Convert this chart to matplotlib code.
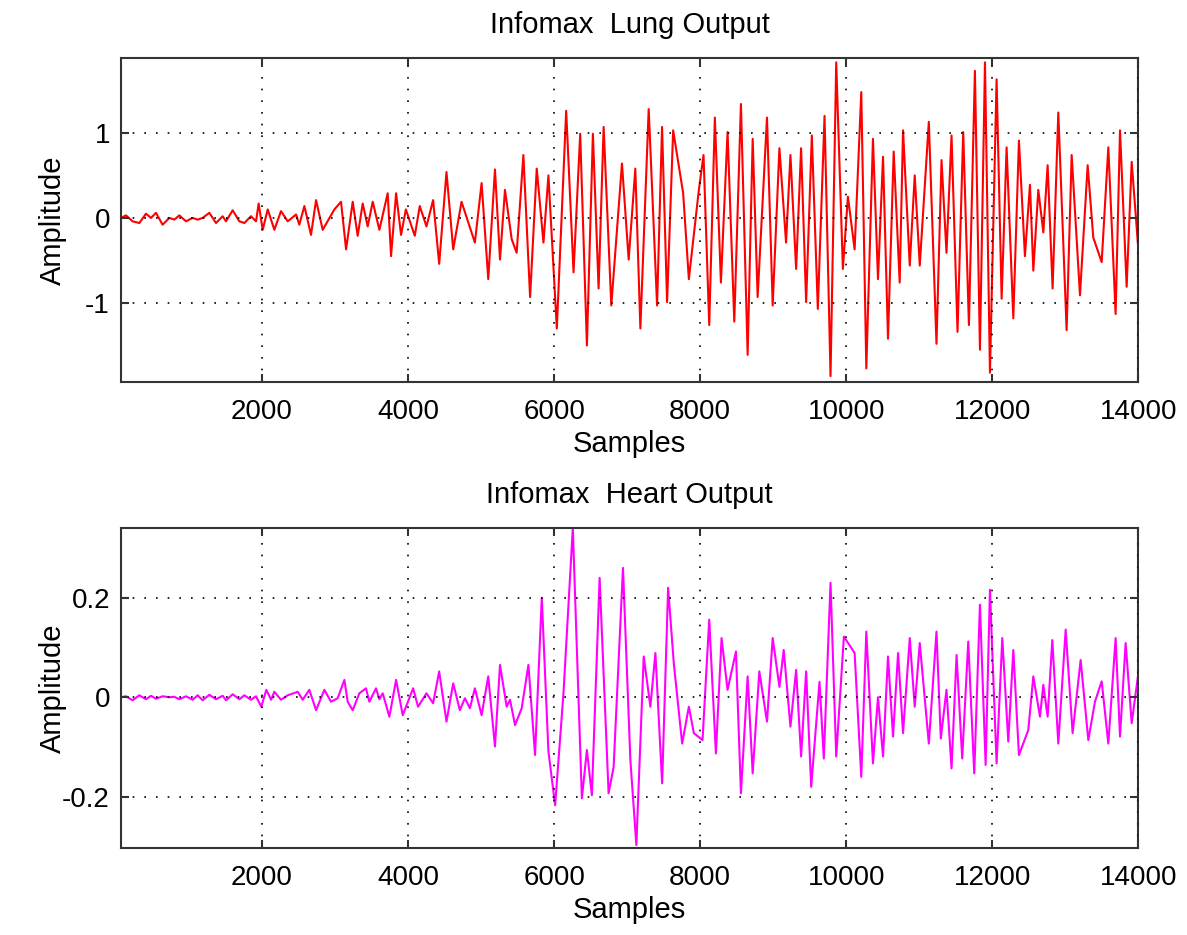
import matplotlib
matplotlib.use("Agg")
import matplotlib.pyplot as plt

plt.rcParams['font.family'] = ['Liberation Sans', 'DejaVu Sans']
plt.rcParams['axes.unicode_minus'] = False

# sample index and amplitude of each turning point
lung_samples = [
    69, 137, 228, 320, 411, 480, 548, 639, 731, 799, 868, 959, 1050, 1119, 1187,
    1279, 1370, 1461, 1507, 1598, 1690, 1758, 1849, 1918,
    1954, 2009, 2078, 2169, 2260, 2352, 2466, 2511, 2580, 2671, 2740, 2831, 2991,
    3082, 3151, 3242, 3310, 3379, 3447, 3516, 3607, 3721, 3767, 3836, 3904, 3970,
    4092, 4160, 4252, 4343, 4426, 4526, 4618, 4732, 4915, 5007, 5098, 5190, 5259,
    5327, 5419, 5487, 5579, 5671, 5762, 5854, 5922, 6037, 6165, 6266, 6357, 6449,
    6531, 6609, 6678, 6783, 6929, 7021, 7112, 7181, 7295, 7410, 7478, 7547, 7630,
    7767, 7845, 7982,
    8046, 8124, 8201, 8284, 8375, 8467, 8558, 8650, 8719, 8787, 8915, 8993, 9085,
    9176, 9236, 9314, 9382, 9451, 9529, 9611, 9703, 9785, 9863, 9954, 10023,
    10115, 10206, 10275, 10366, 10435, 10504, 10572, 10650, 10732, 10778, 10870,
    10938, 11007, 11131, 11236, 11305, 11373, 11442, 11524, 11602, 11680, 11762,
    11831, 11900, 11968,
    12059, 12128, 12196, 12288, 12365, 12447, 12516, 12562, 12630, 12699, 12758,
    12826, 12904, 13018, 13087, 13201, 13306, 13383, 13498, 13589, 13689, 13749,
    13840, 13909, 14000,
]
lung_values = [
    0.00, 0.03, -0.04, -0.06, 0.05, 0.00, 0.06, -0.08, 0.00, -0.02, 0.03, -0.04,
    0.00, -0.02, 0.00, 0.06, -0.06, 0.02, -0.04, 0.09, -0.04, -0.06, 0.02, -0.04,
    0.17, -0.14, 0.10, -0.14, 0.08, -0.04, 0.04, -0.08, 0.14, -0.20, 0.21, -0.14,
    0.10, 0.19, -0.37, 0.19, -0.21, 0.17, -0.10, 0.19, -0.14, 0.29, -0.45, 0.29,
    -0.20, 0.10,
    -0.21, 0.14, -0.10, 0.21, -0.54, 0.54, -0.37, 0.19, -0.29, 0.41, -0.72, 0.57,
    -0.49, 0.33, -0.25, -0.41, 0.74, -0.93, 0.58, -0.29, 0.50, -1.30, 1.26, -0.64,
    0.99, -1.50, 0.99, -0.83, 1.07, -1.03, 0.64, -0.49, 0.58, -1.30, 1.28, -1.03,
    1.07, -0.99, 1.03, 0.29, -0.72, 0.33,
    0.74, -1.26, 1.18, -0.76, 1.01, -1.22, 1.34, -1.61, 0.93, -0.93, 1.18, -1.03,
    0.82, -0.29, 0.74, -0.60, 0.82, -0.99, 0.97, -1.07, 1.20, -1.86, 1.83, -0.60,
    0.25, -0.37, 1.48, -1.77, 0.93, -0.72, 0.72, -1.42, 0.78, -0.76, 1.03, -0.56,
    0.50, -0.56, 1.13, -1.48, 0.68, -0.41, 0.97, -1.34, 1.01, -1.26, 1.73, -1.55,
    1.83, -1.82,
    1.63, -0.95, 0.83, -1.18, 0.91, -0.45, 0.39, -0.62, 0.33, -0.17, 0.62, -0.83,
    1.24, -1.32, 0.74, -0.91, 0.62, -0.23, -0.52, 0.83, -1.13, 1.03, -0.81, 0.66,
    -0.37,
]

heart_samples = [
    69, 137, 228, 320, 411, 480, 548, 639, 731, 799, 868, 959, 1050, 1119, 1187,
    1279, 1370, 1461, 1507, 1598, 1690, 1758, 1849, 1918,
    1990, 2059, 2124, 2169, 2260, 2352, 2489, 2557, 2648, 2740, 2854, 2945, 3036,
    3128, 3173, 3242, 3333, 3424, 3470, 3561, 3607, 3653, 3744, 3836, 3927,
    4069, 4137, 4252, 4343, 4426, 4526, 4618, 4709, 4778, 4847, 4915, 5007, 5098,
    5190, 5259, 5350, 5396, 5465, 5556, 5648, 5739, 5831, 5922, 6014, 6128, 6256,
    6380, 6449, 6517, 6623, 6746, 6815, 6943, 7044, 7126, 7227, 7318, 7387, 7479,
    7561, 7639, 7753, 7845, 7913,
    8032, 8124, 8215, 8293, 8375, 8490, 8558, 8650, 8719, 8810, 8915, 8993, 9085,
    9144, 9236, 9314, 9382, 9451, 9520, 9634, 9693, 9785, 9863, 9968, 10115,
    10206, 10275, 10366, 10435, 10504, 10572, 10641, 10710, 10778, 10870, 10938,
    11007, 11131, 11236, 11295, 11373, 11442, 11511, 11588, 11671, 11753, 11831,
    11909, 11968,
    12059, 12137, 12219, 12288, 12365, 12493, 12562, 12653, 12699, 12758, 12822,
    12904, 13005, 13100, 13210, 13315, 13406, 13498, 13589, 13689, 13749, 13826,
    13909, 14000,
]
heart_values = [
    0.000, 0.002, -0.006, 0.004, -0.004, 0.003, -0.003, 0.002, 0.000, 0.001,
    -0.004, 0.002, -0.005, 0.004, -0.006, 0.005, -0.004, 0.003, -0.006, 0.006,
    -0.004, 0.004, -0.005, 0.002,
    -0.019, 0.015, -0.005, 0.011, -0.005, 0.004, 0.011, -0.005, 0.015, -0.026,
    0.015, -0.009, -0.002, 0.035, -0.009, -0.026, 0.008, 0.018, -0.009, 0.018,
    -0.004, 0.008, -0.039, 0.035, -0.036,
    0.018, -0.019, 0.008, -0.012, 0.052, -0.049, 0.028, -0.026, -0.002, -0.022,
    0.018, -0.036, 0.042, -0.099, 0.065, -0.019, -0.005, -0.056, -0.022, 0.065,
    -0.116, 0.200, -0.109, -0.217, 0.008, 0.340, -0.203, -0.106, -0.197, 0.240,
    -0.193, -0.140, 0.260, -0.126, -0.297, 0.082, -0.019, 0.089, -0.173, 0.220,
    0.068, -0.093, -0.019, -0.072,
    -0.086, 0.156, -0.113, 0.119, 0.015, 0.092, -0.193, 0.042, -0.153, 0.052,
    -0.049, 0.119, 0.021, 0.095, -0.059, 0.055, -0.119, 0.052, -0.180, 0.031,
    -0.123, 0.230, -0.119, 0.122, 0.089, -0.160, 0.132, -0.133, 0.000, -0.119,
    0.082, -0.079, 0.089, -0.072, 0.119, -0.019, 0.109, -0.093, 0.132, -0.083,
    0.015, -0.143, 0.085, -0.123, 0.112, -0.153, 0.186, -0.136, 0.216,
    -0.133, 0.119, -0.089, 0.095, -0.116, -0.066, 0.042, -0.039, 0.025, -0.039,
    0.115, -0.093, 0.136, -0.072, 0.075, -0.086, -0.009, 0.032, -0.093, 0.119,
    -0.079, 0.109, -0.052, 0.048,
]

xticks = [2000, 4000, 6000, 8000, 10000, 12000, 14000]

fig = plt.figure(figsize=(11.87, 9.35), dpi=100)
ax1 = fig.add_axes([0.102, 0.5914, 0.857, 0.3465])
ax2 = fig.add_axes([0.102, 0.0930, 0.857, 0.3422])


def style_axes(ax, title, yticks, ylim):
    ax.set_xlim(70, 14000)
    ax.set_ylim(*ylim)
    ax.set_xticks(xticks)
    ax.set_yticks(yticks)
    ax.set_yticklabels([('%g' % v) for v in yticks])
    ax.set_axisbelow(False)
    ax.grid(True, color='black', linestyle=(0, (1, 6)), linewidth=1.2)
    ax.tick_params(direction='in', length=6, width=1.5, top=True, right=True,
                   labelsize=20, color='#333333')
    ax.tick_params(axis='x', pad=12)
    ax.tick_params(axis='y', pad=8)
    for s in ax.spines.values():
        s.set_linewidth(1.5)
        s.set_color('#333333')
    ax.set_title(title, fontsize=21, pad=18)
    ax.set_xlabel('Samples', fontsize=21, labelpad=4)
    ax.set_ylabel('Amplitude', fontsize=21)
    ax.yaxis.set_label_coords(-0.053, 0.5)


ax1.plot(lung_samples, lung_values, color='#ff0000', linewidth=1.5)
style_axes(ax1, 'Infomax  Lung Output', [-1, 0, 1], (-1.93, 1.88))

ax2.plot(heart_samples, heart_values, color='#ff00ff', linewidth=1.5)
style_axes(ax2, 'Infomax  Heart Output', [-0.2, 0, 0.2], (-0.303, 0.34))

fig.savefig('out.png', dpi=100)
